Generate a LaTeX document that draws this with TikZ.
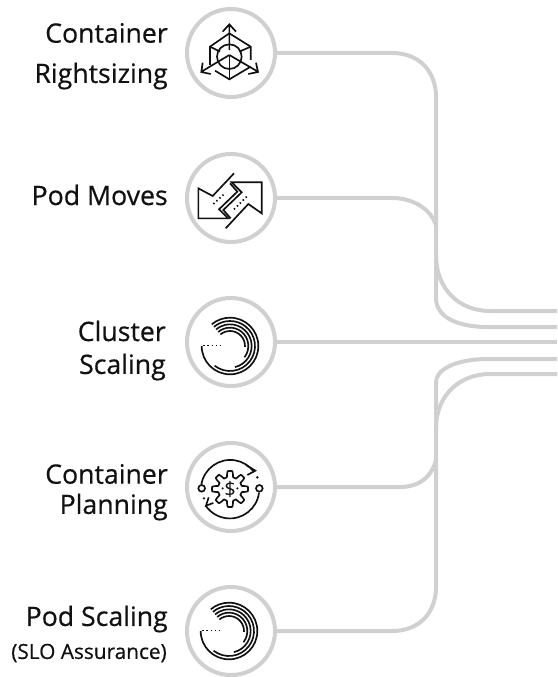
\documentclass[tikz,border=0pt]{standalone}
\usepackage{fontspec}
\setmainfont{Open Sans}
\newfontfamily\labelfont{Open Sans}[FakeBold=0.5]
\definecolor{wire}{HTML}{D0D0D0}
\definecolor{ink}{HTML}{111111}
\tikzset{
  ring/.style={circle,draw=wire,line width=3pt,minimum size=66pt,inner sep=0pt,fill=white},
  wireline/.style={draw=wire,line width=3pt},
  label/.style={anchor=east,font=\labelfont\fontsize{20}{22}\selectfont,text=ink,inner sep=0pt},
  sublabel/.style={anchor=east,font=\labelfont\fontsize{15.6}{18}\selectfont,text=ink,inner sep=0pt},
  ic/.style={draw=ink,line width=1.25pt,line join=miter},
  icdots/.style={draw=ink,line width=1.25pt,dash pattern=on 1.1pt off 2pt},
  spiralic/.pic={
    \foreach \rr/\ss in {85/180,75/232,65/283,55/322,45/357}{
      \draw[ic] (\ss:\rr) arc[start angle=\ss,end angle=490,radius=\rr];
    }
    \draw[icdots] (-80,2) -- (-22,2);
  }
}
\begin{document}
\begin{tikzpicture}[x=.75pt,y=-.75pt]
\useasboundingbox[fill=white] (0,0) rectangle (557,677);

% connector free ends
\coordinate (e1) at (557,311);
\coordinate (e2) at (557,327);
\coordinate (e3) at (557,342);
\coordinate (e4) at (557,359);
\coordinate (e5) at (557,374);
\coordinate (j2) at (436,225);
\coordinate (j4) at (436,460);

% rings
\node[ring] (c1) at (231,53) {};
\node[ring] (c2) at (231,198) {};
\node[ring] (c3) at (231,342) {};
\node[ring] (c4) at (231,487) {};
\node[ring] (c5) at (231,631) {};

% connectors
\begin{scope}[wireline]
\draw (c1.east) -- (392,53) .. controls (420,53) and (436,72) .. (436,97) -- (436,255)
      .. controls (436,290) and (460,311) .. (490,311) -- (e1);
\draw (436,255) -- (436,298) .. controls (436,316) and (455,327) .. (488,327) -- (e2);
\draw (c2.east) -- (392,198) .. controls (412,198) and (430,208) .. (j2);
\draw (c3.east) -- (e3);
\draw (c5.east) -- (392,631) .. controls (420,631) and (436,612) .. (436,587) -- (436,382)
      .. controls (436,370) and (455,359) .. (488,359) -- (e4);
\draw (436,428) .. controls (436,395) and (460,374) .. (490,374) -- (e5);
\draw (c4.east) -- (400,487) .. controls (420,487) and (432,476) .. (j4);
\end{scope}

% labels
\node[label] (l1a) at (168,33) {Container};
\node[label] (l1b) at (168,76) {Rightsizing};
\node[label] (l2) at (168,195) {Pod Moves};
\node[label] (l3a) at (166,331) {Cluster};
\node[label] (l3b) at (166,367) {Scaling};
\node[label] (l4a) at (168,474) {Container};
\node[label] (l4b) at (168,507) {Planning};
\node[label] (l5a) at (168,619) {Pod Scaling};
\node[sublabel] (l5b) at (167,653) {(SLO Assurance)};

% icon 1: cube
\begin{scope}[shift={(180,0)},x=.25pt,y=-.25pt]
\draw[ic] (148,100) -- (212,140) -- (212,180) (212,200) -- (148,238) -- (105,212)
          (90,195) -- (90,140) -- (148,100);
\draw[ic] (148,170) circle[radius=37];
\draw[ic] (148,150) -- (148,75) (128,95) -- (148,73) -- (168,95);
\draw[ic] (148,165) -- (148,238);
\draw[ic] (148,165) -- (66,214) (68,188) -- (64,216) -- (92,222);
\draw[ic] (148,165) -- (232,214) (228,188) -- (234,216) -- (205,222);
\draw[ic] (90,140) -- (120,155) (212,140) -- (178,155);
\end{scope}

% icon 2: opposing arrows
\begin{scope}[shift={(180,130)},x=.25pt,y=-.25pt]
\draw[ic] (162,130) -- (98,198) -- (55,175) -- (55,265) -- (145,265) -- (117,238)
          -- (172,185) -- (150,160);
\draw[ic] (137,295) -- (205,222) -- (245,250) -- (245,157) -- (155,157) -- (185,187)
          -- (130,240) -- (152,265);
\draw[icdots] (100,222) -- (135,190);
\draw[icdots] (162,238) -- (200,200);
\end{scope}

% icons 3 and 5: spiral
\begin{scope}[shift={(230,346)},x=.25pt,y=.25pt]
\pic {spiralic};
\end{scope}
\begin{scope}[shift={(229,631)},x=.25pt,y=.25pt]
\pic {spiralic};
\end{scope}

% icon 4: gear and cycle
\begin{scope}[shift={(230,489)},x=.25pt,y=.25pt]
\draw[ic,line join=round] plot[domain=0:360,samples=145]
  ({(45+9*min(1,max(-1,2*cos(8*\x))))*cos(\x)},{(45+9*min(1,max(-1,2*cos(8*\x))))*sin(\x)}) -- cycle;
\draw[ic] (-86,13) arc[start angle=171,end angle=36,radius=88];
\draw[ic] (87,-11) arc[start angle=-7,end angle=-146,radius=88];
\draw[ic] (-85,2) circle[radius=10];
\draw[ic] (88,2) circle[radius=10];
\draw[ic] (48,72) -- (76,55) -- (52,42);
\draw[ic] (-50,-42) -- (-72,-50) -- (-64,-25);
\fill[ink] (82,35) circle[radius=4] (-78,-28) circle[radius=4]
  (-22,2) circle[radius=3.5] (22,2) circle[radius=3.5];
\node[inner sep=0pt,text=ink,font=\fontsize{15}{15}\selectfont] (dollar) at (0,0) {\$};
\end{scope}
\end{tikzpicture}
\end{document}
